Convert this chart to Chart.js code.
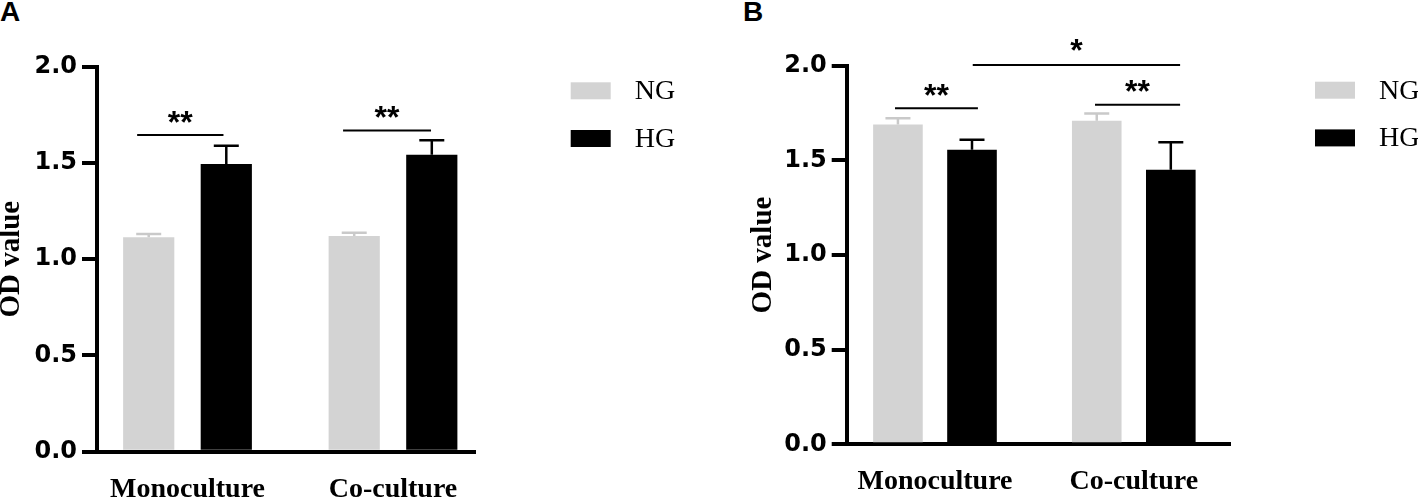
<!DOCTYPE html>
<html lang="en">
<head>
    <meta charset="UTF-8">
    <title>OD value NG vs HG</title>
    <script src="https://cdn.jsdelivr.net/npm/chart.js"></script>
    <style>
        body { margin: 0; background: #fff; }
        .panel { position: absolute; top: 0; }
        .letter { position: absolute; top: -4px; font: bold 28px "Liberation Sans", Arial, sans-serif; color: #000; }
    </style>
</head>
<body>
    <div class="letter" style="left:0px;">A</div>
    <div class="letter" style="left:743px;">B</div>
    <div class="panel" style="left:0px;"><canvas id="chartA" width="700" height="499"></canvas></div>
    <div class="panel" style="left:700px;"><canvas id="chartB" width="718" height="499"></canvas></div>
    <script>
        const categories = ['Monoculture', 'Co-culture'];
        const seriesNames = ['NG', 'HG'];
        const yTickValues = [0, 0.5, 1.0, 1.5, 2.0];

        // panel A
        const ngA = [1.114, 1.120];
        const hgA = [1.495, 1.543];
        const ngErrA = [0.017, 0.018];
        const hgErrA = [0.095, 0.075];
        // panel B
        const ngB = [1.690, 1.709];
        const hgB = [1.556, 1.451];
        const ngErrB = [0.032, 0.039];
        const hgErrB = [0.053, 0.144];

        // significance marks: from, to (x units), line level, text, text level
        const sigA = [
            [0.755, 1.175, 1.645, '**', 1.749],
            [1.757, 2.185, 1.668, '**', 1.775]
        ];
        const sigB = [
            [0.799, 1.216, 1.775, '**', 1.884],
            [1.805, 2.233, 1.794, '**', 1.902],
            [1.190, 2.233, 2.004, '*', 2.118]
        ];

        const colors = ['#d3d3d3', '#000000'];
        const errColors = ['#c9c9c9', '#000000'];

        const errorBars = {
            id: 'errorBars',
            afterDatasetsDraw(chart) {
                const ctx = chart.ctx;
                const y = chart.scales.y;
                ctx.save();
                chart.data.datasets.forEach((ds, i) => {
                    chart.getDatasetMeta(i).data.forEach((bar, j) => {
                        const top = y.getPixelForValue(ds.data[j].y + ds.err[j]);
                        ctx.strokeStyle = ds.errColor;
                        ctx.lineWidth = 2.5;
                        ctx.beginPath();
                        ctx.moveTo(bar.x, bar.y);
                        ctx.lineTo(bar.x, top);
                        ctx.moveTo(bar.x - 12.5, top);
                        ctx.lineTo(bar.x + 12.5, top);
                        ctx.stroke();
                    });
                });
                ctx.restore();
            }
        };

        const sigMarks = {
            id: 'sigMarks',
            afterDatasetsDraw(chart, args, opts) {
                const ctx = chart.ctx;
                const xs = chart.scales.x, ys = chart.scales.y;
                ctx.save();
                ctx.strokeStyle = '#000';
                ctx.fillStyle = '#000';
                ctx.lineWidth = 2;
                ctx.font = 'bold 32px "Liberation Sans"';
                ctx.textAlign = 'center';
                ctx.textBaseline = 'alphabetic';
                opts.marks.forEach(m => {
                    const x1 = xs.getPixelForValue(m[0]);
                    const x2 = xs.getPixelForValue(m[1]);
                    const ly = ys.getPixelForValue(m[2]);
                    ctx.beginPath();
                    ctx.moveTo(x1, ly);
                    ctx.lineTo(x2, ly);
                    ctx.stroke();
                    const tx = xs.getPixelForValue((m[0] + m[1]) / 2);
                    ctx.fillText(m[3], tx, ys.getPixelForValue(m[4]) + 0.56 * 32);
                });
                ctx.restore();
            }
        };

        const boxLegend = {
            id: 'boxLegend',
            afterDraw(chart, args, opts) {
                const ctx = chart.ctx;
                ctx.save();
                ctx.font = '28px "Liberation Serif"';
                ctx.textBaseline = 'middle';
                ctx.textAlign = 'left';
                chart.data.datasets.forEach((ds, i) => {
                    const top = opts.y + i * 47.7;
                    ctx.fillStyle = ds.backgroundColor;
                    ctx.fillRect(opts.x, top, 40, 17);
                    ctx.fillStyle = '#000';
                    ctx.fillText(ds.label, opts.x + 64, top + 9.5);
                });
                ctx.restore();
            }
        };

        function makePanel(id, ng, hg, ngErr, hgErr, marks, geo) {
            const values = [ng, hg];
            const errs = [ngErr, hgErr];
            return new Chart(document.getElementById(id), {
                type: 'bar',
                data: {
                    datasets: seriesNames.map((name, i) => ({
                        label: name,
                        data: values[i].map((v, j) => ({ x: j + 1, y: v })),
                        backgroundColor: colors[i],
                        err: errs[i],
                        errColor: errColors[i],
                        categoryPercentage: geo.cat,
                        barPercentage: geo.bar
                    }))
                },
                options: {
                    responsive: false,
                    animation: false,
                    layout: { padding: { left: geo.padL, right: geo.padR, top: geo.padT, bottom: 0 } },
                    plugins: {
                        legend: { display: false },
                        tooltip: { enabled: false },
                        sigMarks: { marks: marks },
                        boxLegend: { x: geo.legX, y: geo.legY }
                    },
                    scales: {
                        x: {
                            type: 'linear',
                            offset: false,
                            min: geo.xMin,
                            max: geo.xMax,
                            grid: { display: false, drawTicks: false, offset: false },
                            border: { color: '#000', width: 4 },
                            afterBuildTicks: s => { s.ticks = categories.map((c, i) => ({ value: i + 1 })); },
                            ticks: {
                                callback: v => categories[v - 1],
                                font: { family: 'Liberation Serif', weight: 'bold', size: 28 },
                                color: '#000',
                                padding: geo.xPad,
                                maxRotation: 0,
                                autoSkip: false
                            },
                            afterFit: s => { s.height = geo.xH; }
                        },
                        y: {
                            min: 0,
                            max: 2,
                            afterBuildTicks: s => { s.ticks = yTickValues.map(v => ({ value: v })); },
                            grid: { drawOnChartArea: false, drawTicks: true, tickLength: 15, lineWidth: 4, color: '#000', tickColor: '#000' },
                            border: { color: '#000', width: 4 },
                            ticks: {
                                callback: v => v.toFixed(1),
                                font: { family: 'DejaVu Sans', weight: 'bold', size: 24 },
                                color: '#000',
                                padding: 5
                            },
                            title: {
                                display: true,
                                text: 'OD value',
                                font: { family: 'Liberation Serif', weight: 'bold', size: 29, lineHeight: 0.76 },
                                color: '#000',
                                padding: 0
                            },
                            afterFit: s => { s.width = geo.yW; }
                        }
                    }
                },
                plugins: [errorBars, sigMarks, boxLegend]
            });
        }

        makePanel('chartA', ngA, hgA, ngErrA, hgErrA, sigA, {
            padL: 0, yW: 97, padR: 225, padT: 66.7, xH: 47.3, xPad: 21,
            xMin: 0.5596, xMax: 2.399, cat: 0.755, bar: 0.66, legX: 570.7, legY: 82.3
        });
        makePanel('chartB', ngB, hgB, ngErrB, hgErrB, sigB, {
            padL: 52.5, yW: 94.2, padR: 188, padT: 65.7, xH: 54.7, xPad: 21,
            xMin: 0.556, xMax: 2.484, cat: 0.745, bar: 0.67, legX: 615, legY: 81.7
        });
    </script>
</body>
</html>
